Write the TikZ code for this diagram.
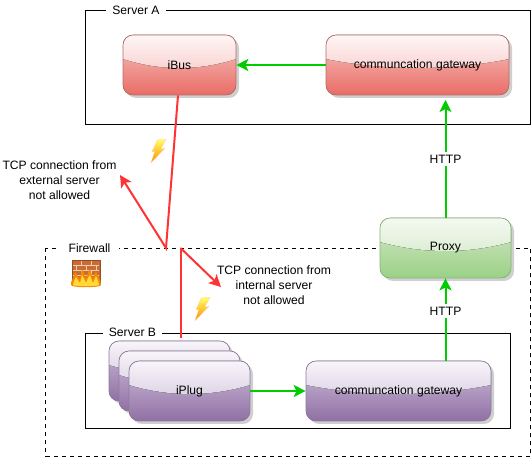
\documentclass[tikz,border=0pt]{standalone}
\usepackage{fontspec}
\setmainfont{Liberation Sans}
\usetikzlibrary{arrows.meta,calc,shadows}
\definecolor{redA}{HTML}{FFF6F6}\definecolor{redB}{HTML}{F8D2D0}\definecolor{redC}{HTML}{F3A8A3}\definecolor{redD}{HTML}{E96C66}\definecolor{redE}{HTML}{B46A66}
\definecolor{purA}{HTML}{F8F5FA}\definecolor{purB}{HTML}{DCD2E4}\definecolor{purC}{HTML}{B9A4C8}\definecolor{purD}{HTML}{9070A4}\definecolor{purE}{HTML}{8E7A9C}
\definecolor{greA}{HTML}{F4F9F1}\definecolor{greB}{HTML}{DCEDD3}\definecolor{greC}{HTML}{C2E0B2}\definecolor{greD}{HTML}{9AD186}\definecolor{greE}{HTML}{86B476}
\definecolor{arrG}{HTML}{00CC00}\definecolor{arrR}{HTML}{FF3333}\definecolor{shad}{HTML}{CFCFCF}
\definecolor{brick}{HTML}{C96B33}\definecolor{brickline}{HTML}{8E4F24}\definecolor{mortar}{HTML}{F0CDB0}
\definecolor{flameO}{HTML}{F58A00}\definecolor{flameY}{HTML}{FFD83A}
\tikzset{
 x=0.75pt,y=-0.75pt,
 every node/.style={font=\fontsize{9.1}{11.25}\selectfont,text=black},
 glossbox/.style n args={6}{draw=#5,line width=.5pt,rounded corners=7.5pt,minimum width=#6*0.75pt,minimum height=45pt,inner sep=0pt,
   copy shadow={shadow xshift=2.25pt,shadow yshift=-2.25pt,fill=shad,draw=none},
   path picture={
     \coordinate (NW) at (path picture bounding box.north west);
     \coordinate (NE) at (path picture bounding box.north east);
     \coordinate (SW) at (path picture bounding box.south west);
     \coordinate (SE) at (path picture bounding box.south east);
     \fill[sharp corners,top color=#3,bottom color=#4] ($(NW)!.35!(SW)$) rectangle (SE);
     \fill[sharp corners,top color=#1,bottom color=#2] (NW) -- (NE) -- ($(NE)!.40!(SE)$)
       .. controls ($($(NE)!.60!(SE)$)!.33!($(NW)!.60!(SW)$)$)
       and ($($(NE)!.60!(SE)$)!.67!($(NW)!.60!(SW)$)$)
       .. ($(NW)!.40!(SW)$) -- cycle;}},
 redbox/.style={glossbox={redA}{redB}{redC}{redD}{redE}{#1}},
 purbox/.style={glossbox={purA}{purB}{purC}{purD}{purE}{#1}},
 grebox/.style={glossbox={greA}{greB}{greC}{greD}{greE}{#1}},
 frame/.style={draw=black,line width=.75pt},
 fw/.style={draw=black,line width=.75pt,dash pattern=on 3pt off 3pt},
 lab/.style={fill=white,inner sep=0pt,minimum height=12pt},
 garrow/.style={draw=arrG,line width=1.5pt,-{Stealth[length=9pt,width=9pt,inset=2.2pt]}},
 rarrow/.style={draw=arrR,line width=1.5pt,-{Stealth[length=9pt,width=9pt,inset=2.2pt]}},
 rline/.style={draw=arrR,line width=1.5pt},
 bolt/.style={draw=white!60!orange,line width=.2pt,top color=yellow!60!white,bottom color=orange!90!yellow},
}
\begin{document}
\begin{tikzpicture}
\useasboundingbox (0,0) rectangle (532,459);
% containers
\draw[frame] (85.5,10.5) rectangle (530.5,124.5);
\draw[fw] (45.5,248.5) rectangle (530.5,456.5);
\draw[frame] (85.5,333.5) rectangle (510.5,428.5);
% coordinates
\coordinate (kneeA) at (166,248);
\coordinate (freeA) at (120,175);
\coordinate (kneeB) at (180.5,248);
\coordinate (freeB) at (221,287);
\coordinate (startB) at (180.5,338);
\coordinate (freeC) at (445.5,100);
% red lines behind
\draw[rline] (startB) -- (kneeB);
% labels on frames
\node[lab,minimum width=60*0.75pt] (la) at (136,10.5) {Server A};
\node[lab,minimum width=59*0.75pt] (lf) at (89.5,248) {Firewall};
% nodes
\node[redbox=113] (ibus) at (179.5,65) {iBus};
\node[redbox=183] (gwa) at (417.5,65) {communcation gateway};
\node[grebox=131] (proxy) at (445.5,248) {Proxy};
\node[purbox=121] (p1) at (169.5,371) {};
\node[purbox=121] (p2) at (179.5,381) {};
\node[purbox=121] (iplug) at (189.5,391) {iPlug};
\node[purbox=185] (gwb) at (398.5,391) {communcation gateway};
\node[lab,minimum width=59*0.75pt] (lb) at (132.5,332.5) {Server B};
% connectors
\draw[garrow] (gwa.west) -- (ibus.east);
\draw[garrow] (iplug.east) -- (gwb.west);
\draw[garrow] (proxy.north) -- node[fill=white,inner sep=2pt] (h1) {HTTP} (freeC);
\draw[garrow] (gwb.north -| proxy.north) -- node[fill=white,inner sep=2pt,pos=.6] (h2) {HTTP} (proxy.south);
\draw[rarrow] (ibus.south -| 178,95) -- (kneeA) -- (freeA);
\draw[rarrow] (kneeB) -- (freeB);
% texts
\node[align=center] (ta) at (59.5,180.5) {TCP connection from\\external server\\ not allowed};
\node[align=center] (tb) at (274,285.2) {TCP connection from\\internal server\\ not allowed};
% bolts
\foreach \dx/\dy in {0/0,44/158}{
\begin{scope}[shift={(\dx,\dy)}]
\path[bolt] (157.3,140) -- (166,139.3) -- (160.7,149.3) -- (165,148.3) -- (151,162.7) -- (154.7,151.7) -- (152,151.7) -- cycle;
\end{scope}}
% firewall icon
\fill[brick] (72,260) rectangle (100,284);
\draw[mortar,line width=.5pt] (73,265)--(99,265) (73,270)--(99,270) (73,275)--(99,275) (73,280)--(99,280)
 (81,261)--(81,265) (91,261)--(91,265) (76,265)--(76,270) (86,265)--(86,270) (96,265)--(96,270)
 (81,270)--(81,275) (91,270)--(91,275);
\draw[brickline,line width=.5pt] (72,260) rectangle (100,284);
\path[fill=flameO] (71,285) .. controls (70.5,280) and (74,279) .. (75,272) .. controls (77,275) and (79,278) .. (80,279) .. controls (81,276) and (81,272) .. (82,269)
 .. controls (84,272) and (85,277) .. (86,279) .. controls (87,276) and (88,271) .. (90,269) .. controls (91,272) and (92,277) .. (93,279) .. controls (94,276) and (95,273) .. (96,271) .. controls (97,276) and (101.5,280) .. (101,285) .. controls (100.5,288) and (71.5,288) .. (71,285) -- cycle;
\path[fill=flameY] (73,285) .. controls (73,282) and (75,280) .. (76,277) .. controls (77,279) and (79,282) .. (80,283) .. controls (81,280) and (81.5,277) .. (82,275)
 .. controls (83,277) and (85,281) .. (86,283) .. controls (87,280) and (89,276) .. (90,275) .. controls (91,278) and (92,281) .. (93,283) .. controls (94,281) and (95,278) .. (96,276) .. controls (97,279) and (99,282) .. (99,285) .. controls (98,286.5) and (74,286.5) .. (73,285) -- cycle;
\end{tikzpicture}
\end{document}
